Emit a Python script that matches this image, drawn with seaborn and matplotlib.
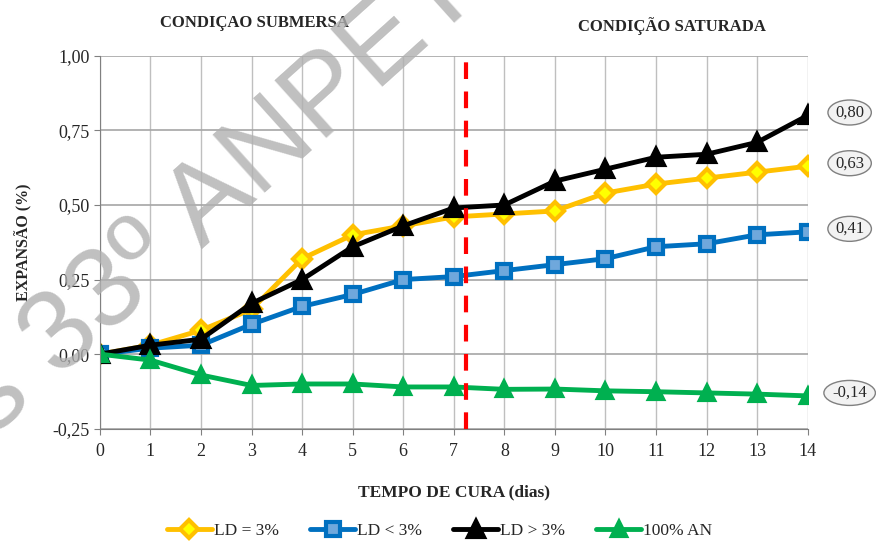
import seaborn as sns
import matplotlib.pyplot as plt
from matplotlib.ticker import FuncFormatter

# dados
dias = list(range(15))
ld_igual = [0.00, 0.03, 0.08, 0.15, 0.32, 0.40, 0.43, 0.46, 0.47, 0.48, 0.54, 0.57, 0.59, 0.61, 0.63]
ld_menor = [0.00, 0.02, 0.03, 0.10, 0.16, 0.20, 0.25, 0.26, 0.28, 0.30, 0.32, 0.36, 0.37, 0.40, 0.41]
ld_maior = [0.00, 0.03, 0.05, 0.17, 0.25, 0.36, 0.43, 0.49, 0.50, 0.58, 0.62, 0.66, 0.67, 0.71, 0.80]
an_100 = [0.00, -0.02, -0.07, -0.105, -0.10, -0.10, -0.11, -0.11, -0.118, -0.117, -0.123, -0.126, -0.13, -0.134, -0.14]
rotulos_finais = ["0,80", "0,63", "0,41", "-0,14"]
corte = 7.25

sns.set_style("white")
plt.rcParams["font.family"] = ["Liberation Serif", "DejaVu Serif"]

fig = plt.figure(figsize=(8.76, 5.42), dpi=100)
ax = fig.add_axes([0.114, 0.209, 0.808, 0.688])

series = [
    ("LD = 3%", ld_igual, "#FFC000", "D", "#FFFF00", 9),
    ("LD < 3%", ld_menor, "#0070C0", "s", "#6FA8DC", 10),
    ("LD > 3%", ld_maior, "#000000", "^", "#000000", 11),
    ("100% AN", an_100, "#00B050", "^", "#00B050", 10),
]
for nome, vals, cor, mk, face, ms in series:
    sns.lineplot(x=dias, y=vals, ax=ax, color=cor, lw=3.5, marker=mk, markersize=ms,
                 markerfacecolor=face, markeredgecolor=cor, markeredgewidth=3, label=nome)

ax.axvline(corte, color="#FF0000", lw=3, ls=(0, (4, 3)), zorder=5)

ax.set_xlim(0, 14)
ax.set_ylim(-0.25, 1.0)
ax.set_xticks(dias)
ax.set_yticks([-0.25, 0, 0.25, 0.5, 0.75, 1.0])
ax.yaxis.set_major_formatter(FuncFormatter(lambda v, p: f"{v:.2f}".replace(".", ",")))
ax.grid(True, color="#BFBFBF", lw=1)
ax.grid(True, axis="y", color="#A6A6A6", lw=1.2)
for s in ["top", "right"]:
    ax.spines[s].set_visible(False)
ax.spines["left"].set_color("#808080")
ax.spines["bottom"].set_color("#808080")
ax.tick_params(labelsize=13, length=4, color="#808080", direction="out", left=True, bottom=True)
ax.tick_params(axis="x", pad=6)
ax.set_xlabel("TEMPO DE CURA (dias)", fontsize=12.5, fontweight="bold", labelpad=18)
ax.set_ylabel("EXPANSÃO (%)", fontsize=11.5, fontweight="bold", labelpad=14)

fig.text(0.29, 0.958, "CONDIÇAO SUBMERSA", ha="center", va="center", fontsize=12, fontweight="bold")
fig.text(0.767, 0.952, "CONDIÇÃO SATURADA", ha="center", va="center", fontsize=12, fontweight="bold")

for txt, vals in zip(rotulos_finais, [ld_maior, ld_igual, ld_menor, an_100]):
    ax.annotate(txt, xy=(14, vals[-1]), xytext=(14.83, vals[-1] + 0.01), ha="center", va="center",
                fontsize=12, annotation_clip=False,
                bbox=dict(boxstyle="ellipse,pad=0.05", fc="#F2F2F2", ec="#808080", lw=1))

ax.legend(loc="center", bbox_to_anchor=(0.48, -0.273), ncol=4, frameon=False, fontsize=12.5,
          handlelength=2.6, handletextpad=0.1, columnspacing=1.8)

# marca d'agua (cortada nas bordas, como no original)
fig.text(0.25, 0.64, "s 33º ANPET", rotation=42, rotation_mode="anchor", ha="center", va="center",
         fontsize=82, color="#B0B0B0", alpha=0.8, family="Liberation Sans", zorder=10)

fig.savefig("out.png", dpi=100)
